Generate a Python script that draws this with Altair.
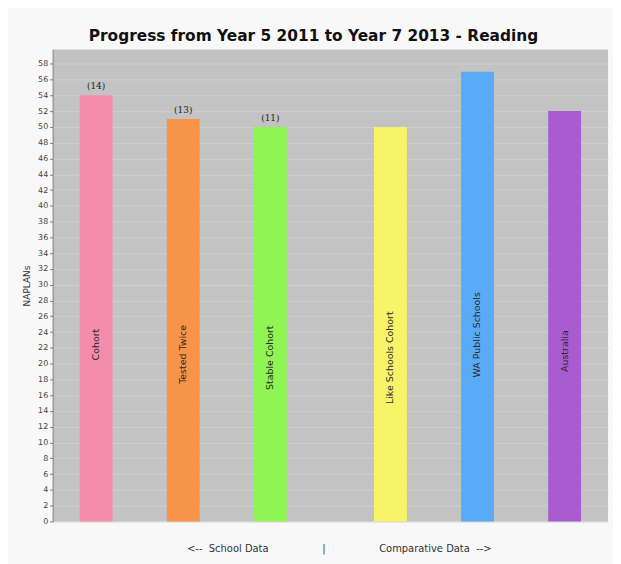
import altair as alt
import pandas as pd

categories = ["Cohort", "Tested Twice", "Stable Cohort",
              "Like Schools Cohort", "WA Public Schools", "Australia"]
groups = ["School Data", "School Data", "School Data",
          "Comparative Data", "Comparative Data", "Comparative Data"]
slots = [0, 1, 2, 0, 1, 2]
values = [54, 51, 50, 50, 57, 52]
counts = ["(14)", "(13)", "(11)", "", "", ""]
colors = ["#f48cae", "#f7944a", "#8ef552", "#f8f46a", "#5aabf7", "#a95ccf"]
y_ticks = list(range(0, 59, 2))

df = pd.DataFrame({
    "category": categories,
    "group": groups,
    "slot": slots,
    "value": values,
    "count": counts,
})

nb = "\u00a0"
x_title = "<--" + nb * 2 + "School Data" + nb * 17 + "|" + nb * 17 + "Comparative Data" + nb * 2 + "-->"

x_enc = alt.X("group:N", sort=["School Data", "Comparative Data"],
              scale=alt.Scale(paddingInner=0.113, paddingOuter=0),
              axis=alt.Axis(labels=False, ticks=False, domain=False,
                            title=x_title,
                            titleFontSize=10, titleFont="DejaVu Sans", titleFontWeight="normal",
                            titleColor="#333333", titlePadding=22, titleX=288))
xo_enc = alt.XOffset("slot:O", scale=alt.Scale(paddingInner=0.623, paddingOuter=0.31))

y_scale = alt.Scale(domain=[0, 59.8], nice=False)
y_axis = alt.Axis(values=y_ticks, title="NAPLANs", titleFontSize=9,
                  titleFont="DejaVu Sans", titleFontWeight="normal",
                  titleColor="#333333", labelFontSize=8, labelColor="#444444",
                  labelFont="DejaVu Sans", tickSize=3, tickColor="#777777",
                  domainColor="#888888", gridColor="#cfcfcf", gridWidth=1,
                  titlePadding=6, labelPadding=2)

base = alt.Chart(df)

bars = base.mark_bar().encode(
    x=x_enc,
    xOffset=xo_enc,
    y=alt.Y("value:Q", scale=y_scale, axis=y_axis),
    color=alt.Color("category:N", sort=categories,
                    scale=alt.Scale(domain=categories, range=colors), legend=None),
)

names = base.transform_calculate(mid="datum.value * 0.415").mark_text(
    angle=270, fontSize=9.5, font="DejaVu Sans", color="#2a2a2a", baseline="middle", align="center"
).encode(
    x=x_enc,
    xOffset=xo_enc,
    y=alt.Y("mid:Q", scale=y_scale, axis=y_axis),
    text="category:N",
)

cnt = base.mark_text(
    fontSize=9, font="DejaVu Serif", color="#222222", baseline="bottom", dy=-4
).encode(
    x=x_enc,
    xOffset=xo_enc,
    y=alt.Y("value:Q", scale=y_scale, axis=y_axis),
    text="count:N",
)

chart = alt.layer(bars, names, cnt).properties(
    width=559, height=475,
    autosize=alt.AutoSizeParams(type="none"),
    padding={"left": 45, "top": 40, "right": 5, "bottom": 41},
    background="#f8f8f8",
    title=alt.TitleParams("Progress from Year 5 2011 to Year 7 2013 - Reading",
                          fontSize=15.5, font="DejaVu Sans", fontWeight="bold",
                          color="#111111", dx=-17, offset=5),
).configure_view(fill="#c3c3c3", stroke=None)

chart.save("out.html", embed_options={"renderer": "svg", "actions": False})
